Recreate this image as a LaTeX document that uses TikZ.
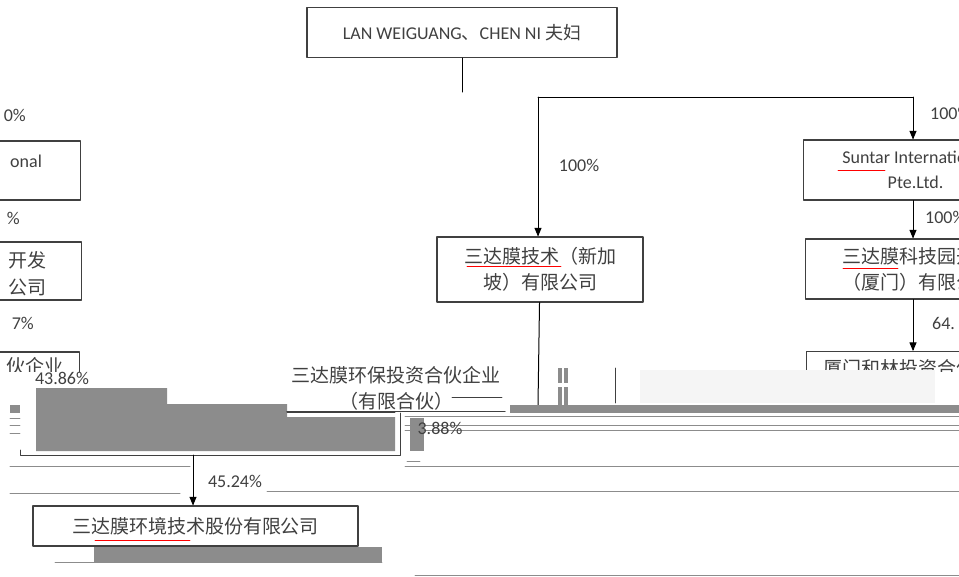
\documentclass[tikz,border=0pt]{standalone}
\usepackage{fontspec}
\setmainfont{Carlito}
\newfontfamily\cjk{Noto Sans CJK SC}
\usepackage{tikz}
\usetikzlibrary{arrows}
\definecolor{uququq}{rgb}{0.25,0.25,0.25}
\definecolor{sqsqsq}{rgb}{0.55,0.55,0.55}
\definecolor{wwwwww}{rgb}{0.96,0.96,0.96}
\definecolor{ffqqqq}{rgb}{1.,0.,0.}
\tikzstyle{every node}=[font=\fontsize{18}{25}\selectfont,text=uququq]

\begin{document}
\begin{tikzpicture}[line cap=round,line join=round,>=triangle 45,x=1pt,y=-1pt,
  box/.style={draw=uququq,line width=1.1pt,fill=white,inner sep=0pt,align=center},
  zh/.style={font=\cjk\fontsize{19}{26}\selectfont},
  pct/.style={inner sep=0pt}]
\useasboundingbox (0,0) rectangle (959,576);
\clip (0,0) rectangle (959,576);
% owners
\node[box,minimum width=310,minimum height=50] (couple) at (462,32.5) {LAN WEIGUANG{\cjk 、}CHEN NI {\cjk 夫妇}};
\coordinate (cj) at (462,92);
\coordinate (lj) at (538,97);
\coordinate (rj) at (913,97);
% left column (cut off)
\node[box,minimum width=240,minimum height=59,anchor=east] (lintl) at (81,170.5) {};
\node[pct,anchor=west] at (10,161) {onal};
\node[box,minimum width=240,minimum height=58,anchor=east] (ldev) at (82,271) {};
\node[zh,pct,anchor=east] at (47,260) {开发};
\node[zh,pct,anchor=east] at (47,287) {公司};
\node[box,minimum width=240,minimum height=58,anchor=east] (lpart) at (80,381) {};
\node[zh,pct,anchor=east] at (64,366) {伙企业};
\node[pct,anchor=east] at (26,115) {0\%};
\node[pct,anchor=east] at (20,218) {\%};
\node[pct,anchor=east] at (34,323) {7\%};
% middle and right
\node[box,zh,minimum width=206,minimum height=65] (sgtech) at (540,269.5) {三达膜技术（新加\\坡）有限公司};
\node[box,minimum width=224,minimum height=60,anchor=west] (suntarintl) at (803,170) {Suntar International\\Pte.Ltd.};
\node[box,zh,minimum width=226,minimum height=60,anchor=west] (sgpark) at (805,269) {三达膜科技园开发\\（厦门）有限公司};
\node[box,minimum width=226,minimum height=60,anchor=north west] (hmpart) at (806,351) {};
\node[zh,pct,anchor=west] at (823,368) {厦门和林投资合伙企业};
\draw [line width=1pt] (couple) -- (cj);
\draw [line width=1pt] (lj) -- (rj);
\draw [->,line width=1pt] (lj) -- (lj |- sgtech.north);
\draw [->,line width=1pt] (rj) -- (rj |- suntarintl.north);
\draw [->,line width=1pt] (rj |- suntarintl.south) -- (rj |- sgpark.north);
\draw [->,line width=1pt] (rj |- sgpark.south) -- (rj |- hmpart.north);
\node[pct] at (579,165) {100\%};
\node[pct,anchor=west] at (930,113) {100\%};
\node[pct,anchor=west] at (925,217) {100\%};
\node[pct,anchor=west] at (932,323) {64.};
\draw [ffqqqq,line width=0.6pt] (838,170) -- (885,170);
\draw [ffqqqq,line width=0.6pt] (467,266) -- (561,266);
\draw [ffqqqq,line width=0.6pt] (843,268) -- (898,268);
% damaged lower part
\fill [white] (0,372) rectangle (959,576);
\fill [wwwwww] (640,370) rectangle (935,403);
\fill [sqsqsq] (558,368) rectangle (562,383);
\fill [sqsqsq] (564,368) rectangle (568,383);
\fill [sqsqsq] (558,387) rectangle (562,405);
\fill [sqsqsq] (564,387) rectangle (568,405);
\draw [uququq,line width=0.8pt] (615,368) -- (615,403);
\coordinate (tj) at (538,405);
\draw [line width=1pt] (sgtech) -- (tj);
\fill [sqsqsq] (510,405) rectangle (959,413);
\draw [sqsqsq,line width=0.8pt] (405,416) -- (959,416);
\draw [sqsqsq,line width=0.8pt] (405,425) -- (959,425);
\draw [sqsqsq,line width=0.8pt] (405,430) -- (959,430);
\draw [sqsqsq,line width=1pt] (405,466) -- (959,466);
\draw [sqsqsq,line width=1pt] (267,491) -- (959,491);
\draw [sqsqsq,line width=1pt] (10,466) -- (190,466);
\draw [sqsqsq,line width=1pt] (10,493) -- (180,493);
\draw [sqsqsq,line width=0.8pt] (415,575) -- (959,575);
\fill [sqsqsq] (10,405) rectangle (20,413);
\draw [sqsqsq,line width=0.8pt] (10,418) -- (20,418);
\draw [sqsqsq,line width=0.8pt] (10,425) -- (20,425);
\draw [sqsqsq,line width=0.8pt] (10,433) -- (20,433);
\fill [sqsqsq] (36,388) -- (167,388) -- (167,404) -- (287,404) -- (287,417) -- (395,417) -- (395,451) -- (36,451) -- cycle;
\draw [uququq,line width=0.8pt] (20,450) -- (20,455) -- (400,455) -- (400,413);
\draw [uququq,line width=0.8pt] (287,412) -- (395,412);
\fill [sqsqsq] (410,418) rectangle (424,451);
\draw [sqsqsq,line width=0.8pt] (407,461) -- (420,461);
\node[zh,minimum width=218,minimum height=46,inner sep=0pt,align=center] (hbpart) at (396,388) {三达膜环保投资合伙企业\\（有限合伙）};
\draw [uququq,line width=0.8pt] (hbpart.south west) -- (hbpart.south east);
\draw [uququq,line width=0.8pt] (452,397) -- (502,397);
\node[pct] at (62,378) {43.86\%};
\node[pct] at (440,428) {3.88\%};
% listed company
\node[box,zh,minimum width=325,minimum height=40] (envtech) at (195.5,526) {三达膜环境技术股份有限公司};
\draw [ffqqqq,line width=0.6pt] (95,540) -- (190,540);
\coordinate (bj) at (193,455);
\draw [->,line width=1pt] (bj) -- (bj |- envtech.north);
\node[pct] at (235,481) {45.24\%};
\fill [sqsqsq] (94,547) rectangle (382,562);
\draw [sqsqsq,line width=0.8pt] (55,562) -- (382,562);
\end{tikzpicture}
\end{document}
